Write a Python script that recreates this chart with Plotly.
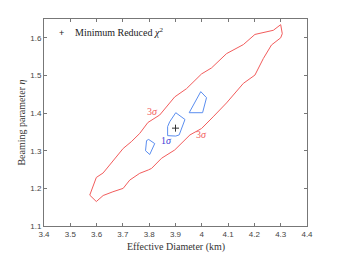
import plotly.graph_objects as go

# 3-sigma contour (red)
sig3_x = [3.574, 3.599, 3.625, 3.650, 3.701, 3.732, 3.764, 3.795, 3.840, 3.897, 3.942, 3.999, 4.037,
          4.094, 4.158, 4.202, 4.272, 4.300, 4.306, 4.300, 4.265, 4.234, 4.202, 4.158, 4.120, 4.094,
          4.043, 3.999, 3.955, 3.897, 3.847, 3.809, 3.797, 3.764, 3.726, 3.701, 3.662, 3.625, 3.599, 3.574]
sig3_y = [1.182, 1.229, 1.241, 1.262, 1.306, 1.324, 1.346, 1.375, 1.395, 1.443, 1.465, 1.504, 1.520,
          1.558, 1.582, 1.609, 1.620, 1.635, 1.611, 1.600, 1.581, 1.545, 1.501, 1.479, 1.448, 1.427,
          1.390, 1.359, 1.342, 1.302, 1.280, 1.253, 1.249, 1.240, 1.222, 1.200, 1.191, 1.181, 1.165, 1.182]

# 1-sigma contours (blue)
sig1a_x = [3.798, 3.821, 3.802, 3.786, 3.790, 3.798]
sig1a_y = [1.330, 1.319, 1.290, 1.300, 1.327, 1.330]
sig1b_x = [3.901, 3.936, 3.914, 3.901, 3.870, 3.870, 3.878, 3.901]
sig1b_y = [1.401, 1.383, 1.342, 1.339, 1.340, 1.364, 1.377, 1.401]
sig1c_x = [3.996, 4.018, 4.003, 3.952, 3.996]
sig1c_y = [1.457, 1.441, 1.401, 1.401, 1.457]

best_x = [3.9]
best_y = [1.36]

red = "#f25c5c"
blue = "#5b8ef0"
serif = "Liberation Serif"

fig = go.Figure()
fig.add_trace(go.Scatter(x=sig3_x, y=sig3_y, mode="lines", line=dict(color=red, width=1), showlegend=False))
for xs, ys in [(sig1a_x, sig1a_y), (sig1b_x, sig1b_y), (sig1c_x, sig1c_y)]:
    fig.add_trace(go.Scatter(x=xs, y=ys, mode="lines", line=dict(color=blue, width=1), showlegend=False))
fig.add_trace(go.Scatter(x=best_x, y=best_y, mode="markers",
                         marker=dict(symbol="cross-thin", size=5, line=dict(color="#333", width=1)),
                         showlegend=False))

# legend (drawn as text)
fig.add_annotation(xref="paper", yref="paper", x=0.068, y=0.932, xanchor="center", yanchor="middle",
                   text="+", showarrow=False, font=dict(family="Liberation Sans", size=9, color="#222"))
fig.add_annotation(xref="paper", yref="paper", x=0.112, y=0.935, xanchor="left", yanchor="middle",
                   text="Minimum Reduced <i>χ</i><sup>2</sup>", showarrow=False,
                   font=dict(family=serif, size=10, color="#222"))

fig.add_annotation(x=3.813, y=1.405, text="3<i>σ</i>", showarrow=False, font=dict(family=serif, size=10, color=red))
fig.add_annotation(x=3.999, y=1.342, text="3<i>σ</i>", showarrow=False, font=dict(family=serif, size=10, color=red))
fig.add_annotation(x=3.864, y=1.328, text="1<i>σ</i>", showarrow=False, font=dict(family=serif, size=10, color="#3a3ad6"))

# axis titles
fig.add_annotation(xref="paper", yref="paper", x=0.5, y=-0.101, xanchor="center", yanchor="middle",
                   text="Effective Diameter (km)", showarrow=False, font=dict(family=serif, size=10, color="#333"))
fig.add_annotation(xref="paper", yref="paper", x=-0.087, y=0.5, xanchor="center", yanchor="middle",
                   text="Beaming parameter <i>η</i>", showarrow=False, textangle=-90,
                   font=dict(family=serif, size=10, color="#333"))

axis_common = dict(showline=True, linecolor="#777", linewidth=1, mirror="ticks", ticks="inside",
                   ticklen=3, tickcolor="#777", showgrid=False, zeroline=False, automargin=False,
                   tickfont=dict(family="Liberation Sans", size=8, color="#444"))

fig.update_xaxes(range=[3.4, 4.4], dtick=0.1, tick0=3.4, **axis_common)
fig.update_yaxes(range=[1.1, 1.65], dtick=0.1, tick0=1.1, **axis_common)

fig.update_layout(width=339, height=254, margin=dict(l=44, r=32, t=19, b=28),
                  plot_bgcolor="white", paper_bgcolor="white", showlegend=False)

fig.write_html("out.html", config={"displayModeBar": False},
               post_script="document.body.style.margin='0';document.body.style.overflow='hidden';")
